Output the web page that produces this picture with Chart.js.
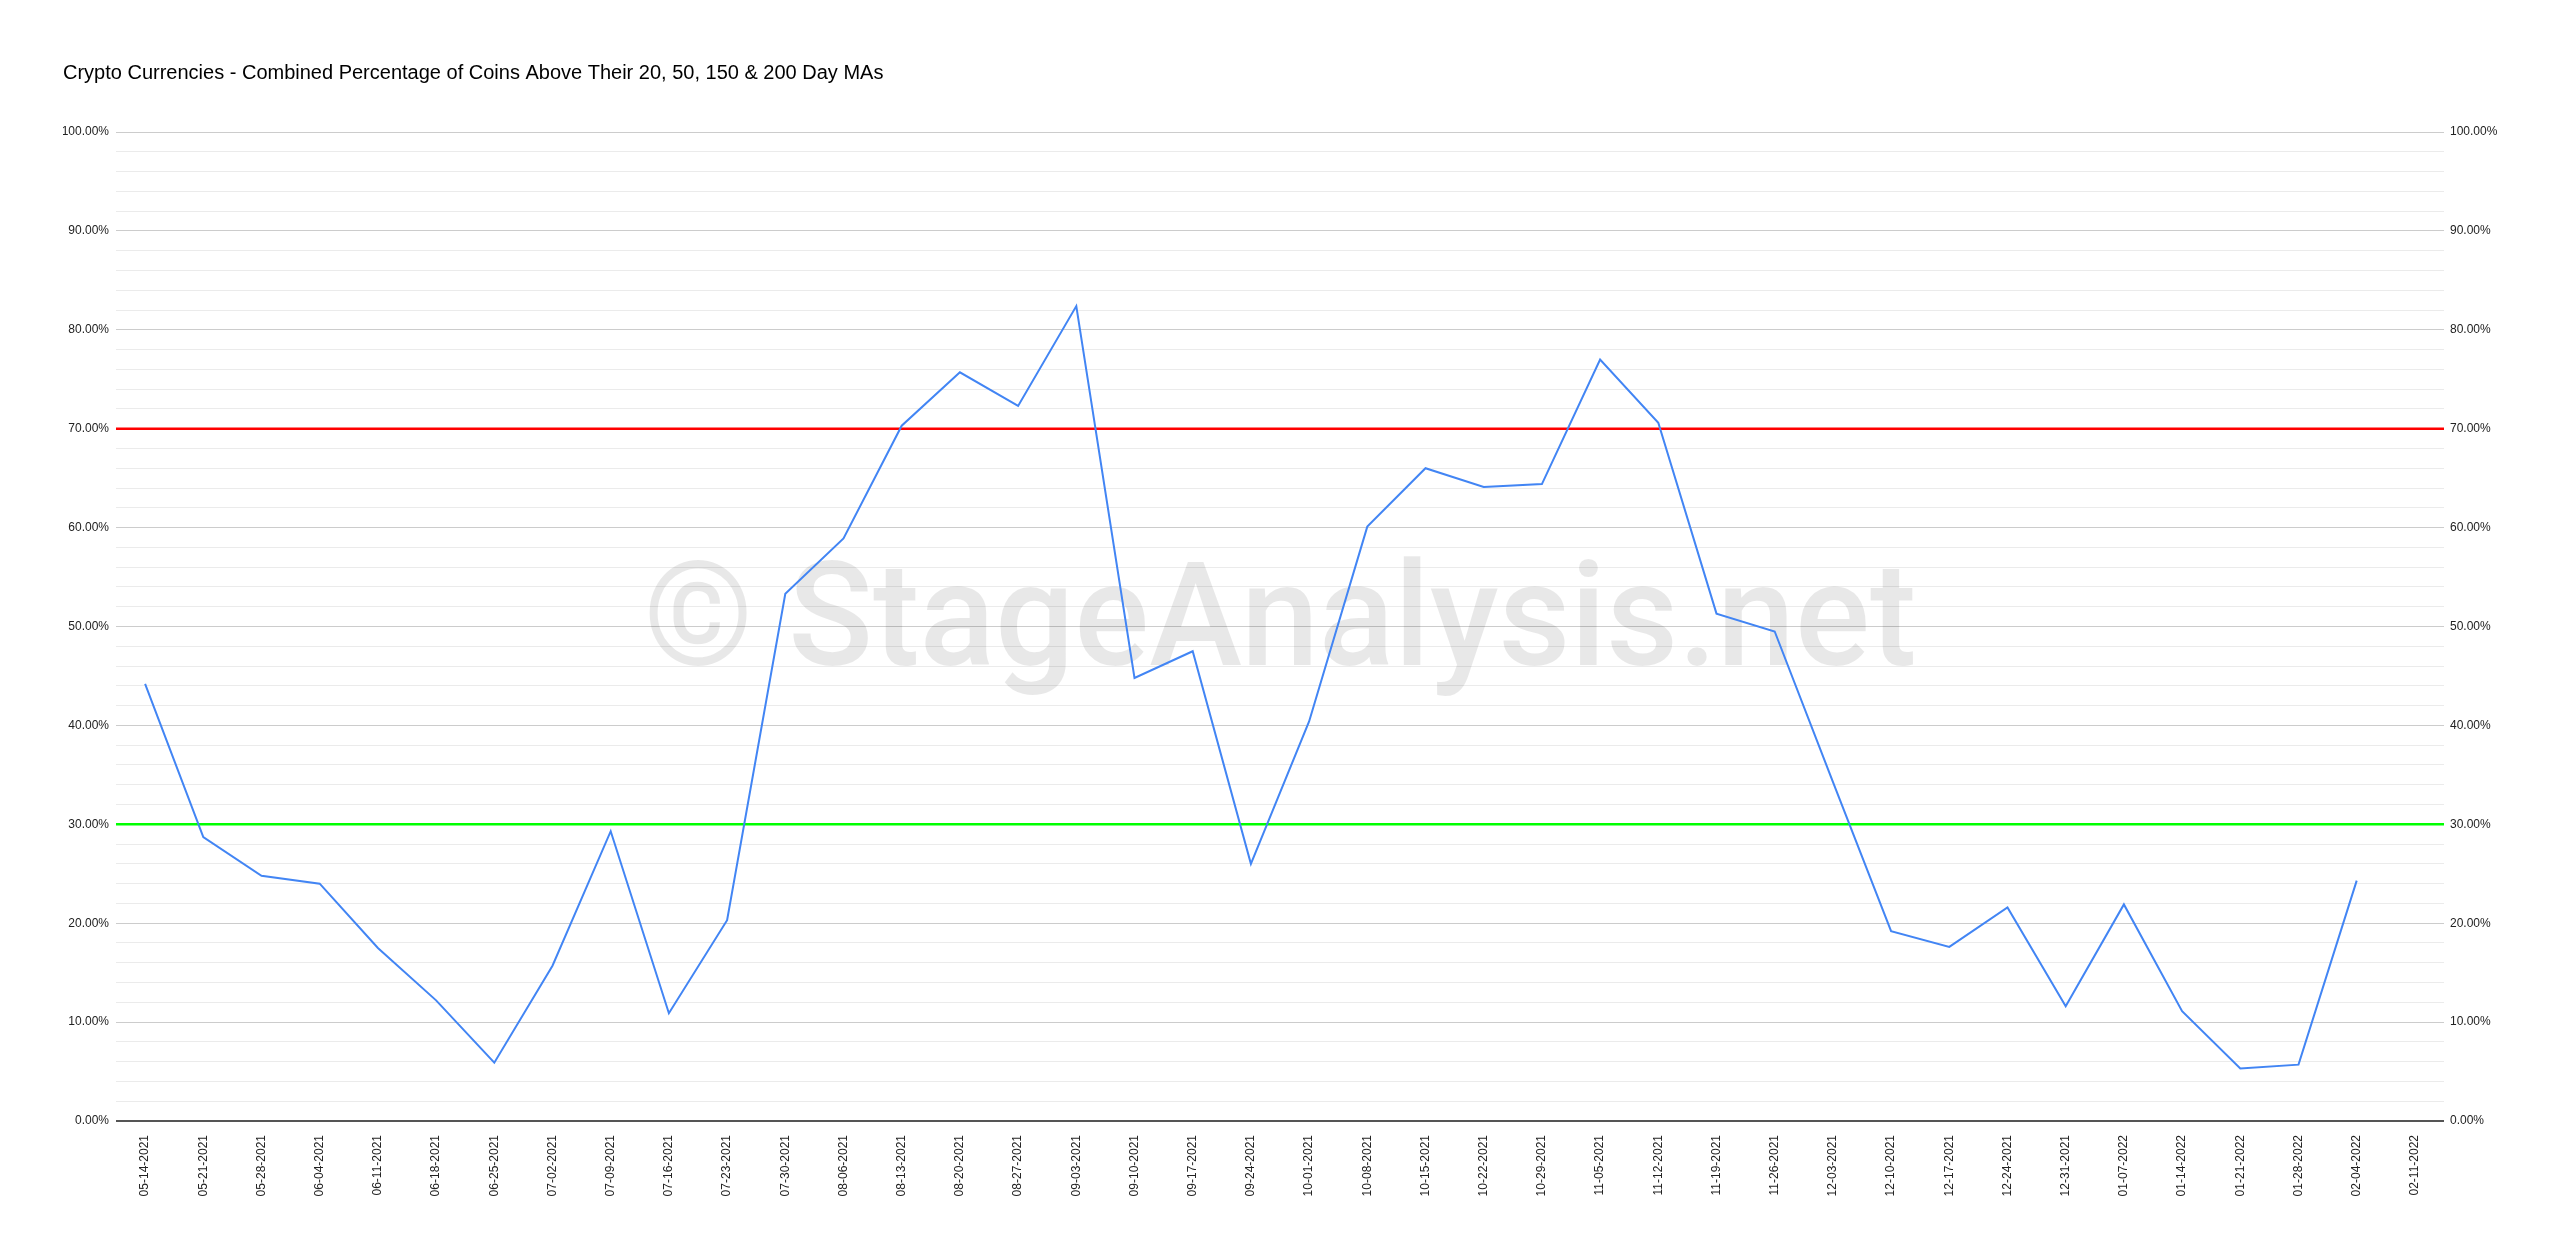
<!DOCTYPE html>
<html>
<head>
<meta charset="utf-8">
<script src="https://cdn.jsdelivr.net/npm/chart.js@4.4.1/dist/chart.umd.min.js"></script>
<style>
  html, body { margin: 0; background: #fff; }
  .chart-cnt { width: 2560px; height: 1250px; }
</style>
</head>
<body>
<div class="chart-cnt"><canvas id="myChart"></canvas></div>
<script>
const weeks = [
  '05-14-2021', '05-21-2021', '05-28-2021', '06-04-2021', '06-11-2021', '06-18-2021', '06-25-2021',
  '07-02-2021', '07-09-2021', '07-16-2021', '07-23-2021', '07-30-2021', '08-06-2021', '08-13-2021',
  '08-20-2021', '08-27-2021', '09-03-2021', '09-10-2021', '09-17-2021', '09-24-2021', '10-01-2021',
  '10-08-2021', '10-15-2021', '10-22-2021', '10-29-2021', '11-05-2021', '11-12-2021', '11-19-2021',
  '11-26-2021', '12-03-2021', '12-10-2021', '12-17-2021', '12-24-2021', '12-31-2021', '01-07-2022',
  '01-14-2022', '01-21-2022', '01-28-2022', '02-04-2022', '02-11-2022'
];

// combined % of coins above their MAs (last week has no value yet)
const percentAbove = [
  44.2, 28.7, 24.8, 24.0, 17.5, 12.2, 5.9, 15.7, 29.3, 10.9,
  20.3, 53.3, 58.9, 70.3, 75.7, 72.3, 82.4, 44.8, 47.5, 26.0,
  40.4, 60.1, 66.0, 64.1, 64.4, 77.0, 70.6, 51.3, 49.5, 34.3,
  19.2, 17.6, 21.6, 11.6, 21.9, 11.1, 5.3, 5.7, 24.3, null
];

const upperLevel = [70, 70];
const lowerLevel = [30, 30];
const levelEnds = ['start', 'end'];

const titleText = 'Crypto Currencies - Combined Percentage of Coins Above Their 20, 50, 150 & 200 Day MAs';
const watermark = '\u00A9 StageAnalysis.net';

const ctx = document.getElementById('myChart');
const labelFont = { family: "'Liberation Sans', Arial, sans-serif", size: 12 };

function pct(value) {
  return value % 10 === 0 ? value.toFixed(2) + '%' : '';
}

function gridColor(c) {
  const v = c.tick.value;
  if (v === 0) return '#555555';
  if (v % 10 === 0) return '#cccccc';
  return '#ebebeb';
}

// grey copyright text behind the line
const watermarkPlugin = {
  id: 'watermark',
  beforeDatasetsDraw(chart) {
    const a = chart.chartArea;
    const g = chart.ctx;
    g.save();
    g.font = "500 145px Roboto, 'Liberation Sans', sans-serif";
    g.fillStyle = 'rgba(0, 0, 0, 0.09)';
    g.textAlign = 'center';
    g.textBaseline = 'alphabetic';
    g.fillText(watermark, (a.left + a.right) / 2, (a.top + a.bottom) / 2 + 38, 1273);
    g.restore();
  }
};

let data = {
  labels: weeks,
  datasets: [
    {
      label: 'Combined %',
      data: percentAbove,
      borderColor: '#4285f4',
      borderWidth: 2,
      pointRadius: 0,
      tension: 0,
      fill: false,
      order: 0
    },
    {
      label: '70%',
      data: upperLevel,
      xAxisID: 'x2',
      borderColor: '#ff0000',
      borderWidth: 2.5,
      pointRadius: 0,
      fill: false,
      order: 1
    },
    {
      label: '30%',
      data: lowerLevel,
      xAxisID: 'x2',
      borderColor: '#00ff00',
      borderWidth: 2.5,
      pointRadius: 0,
      fill: false,
      order: 1
    }
  ]
};

let options = {
  responsive: true,
  maintainAspectRatio: false,
  animation: false,
  layout: { padding: { left: 63, right: 0, top: 0, bottom: 0 } },
  plugins: {
    legend: { display: false },
    tooltip: { enabled: false },
    title: {
      display: true,
      text: titleText,
      align: 'start',
      color: '#000000',
      font: { family: "'Liberation Sans', Arial, sans-serif", size: 20, weight: 'normal' },
      padding: { top: 61, bottom: 47 }
    }
  },
  scales: {
    x: {
      type: 'category',
      offset: true,
      grid: { display: false },
      border: { display: false },
      ticks: {
        autoSkip: false,
        minRotation: 90,
        maxRotation: 90,
        padding: 6,
        color: '#222222',
        font: labelFont
      },
      afterFit(scale) { scale.height = 129; }
    },
    x2: {
      type: 'category',
      labels: levelEnds,
      offset: false,
      display: false
    },
    y: {
      position: 'left',
      min: 0,
      max: 100,
      border: { display: false },
      grid: {
        color: gridColor,
        lineWidth: c => (c.tick.value === 0 ? 2 : 1),
        drawTicks: false
      },
      ticks: {
        stepSize: 2,
        autoSkip: false,
        padding: 7,
        color: '#222222',
        font: labelFont,
        callback: pct
      },
      afterFit(scale) { scale.width = 53; }
    },
    y2: {
      position: 'right',
      min: 0,
      max: 100,
      border: { display: false },
      grid: { display: false, drawTicks: false },
      ticks: {
        stepSize: 2,
        autoSkip: false,
        padding: 6,
        color: '#222222',
        font: labelFont,
        callback: pct
      },
      afterFit(scale) { scale.width = 116; }
    }
  }
};

let myLineChart = new Chart(ctx, {
  type: 'line',
  data: data,
  options: options,
  plugins: [watermarkPlugin]
});
</script>
</body>
</html>
